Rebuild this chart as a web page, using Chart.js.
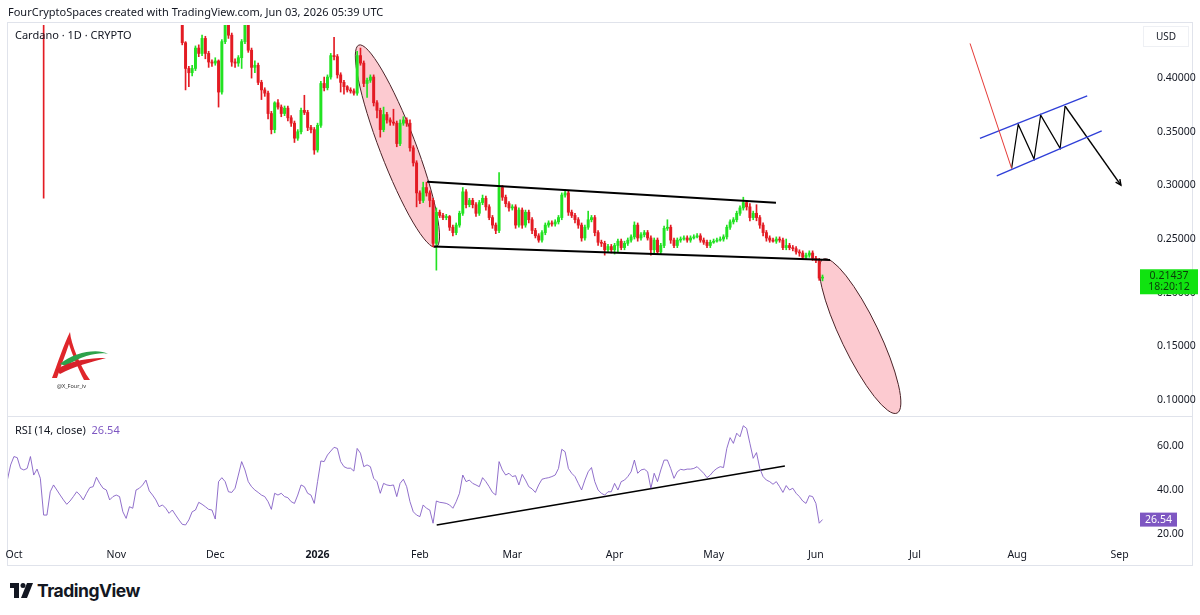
<!DOCTYPE html>
<html>
<head>
<meta charset="utf-8">
<script src="https://cdn.jsdelivr.net/npm/chart.js@4.4.1/dist/chart.umd.min.js"></script>
<style>
  body { margin: 0; width: 1200px; height: 615px; background: #fff; position: relative; overflow: hidden;
         font-family: 'Noto Sans', sans-serif; color: #131722; }
  canvas { position: absolute; left: 0; }
  #price { top: 0; }
  #rsi { top: 416px; }
  .t { position: absolute; white-space: nowrap; font-size: 11px; line-height: 14px; }
  .frame { position: absolute; border: 1px solid #e0e3eb; }
  .sep { position: absolute; background: #e0e3eb; height: 1px; }
</style>
</head>
<body>
<div class="frame" style="left:7px;top:22px;width:1184px;height:542px"></div>
<div class="sep" style="left:8px;top:416px;width:1184px"></div>
<canvas id="price" width="1200" height="416"></canvas>
<canvas id="rsi" width="1200" height="150"></canvas>

<div class="t" style="left:8px;top:5px">FourCryptoSpaces created with TradingView.com, Jun 03, 2026 05:39 UTC</div>
<div class="t" style="left:15px;top:28px">Cardano · 1D · CRYPTO</div>
<div class="t" style="left:15px;top:423px">RSI (14, close) <span style="color:#7e57c2;margin-left:3px">26.54</span></div>
<div class="t" style="left:1143px;top:26px;width:44px;height:19px;border:1px solid #eef0f4;text-align:center;line-height:19px;font-size:10px">USD</div>

<svg style="position:absolute;left:40px;top:322px" width="75" height="72">
  <path d="M12 56 C 18 40, 24 22, 30 10 C 31 22, 40 44, 50 58 L 44 58 C 38 46, 32 32, 29 22 C 25 34, 20 46, 17 56 Z" fill="#e0262b"/>
  <path d="M20 42 C 34 30, 58 26, 68 32 C 62 30, 44 32, 26 44 Z" fill="#2ca24a"/>
  <path d="M16 48 C 30 38, 50 36, 66 36 C 52 40, 34 44, 20 52 Z" fill="#d8222a"/>
  <text x="17" y="66" font-size="5.5" fill="#333" font-family="Noto Sans">@X_Four_iv</text>
</svg>

<svg style="position:absolute;left:10px;top:583px" width="24" height="15">
  <path d="M0 0 H9 V15 H4 V5 H0 Z" fill="#131722"/>
  <circle cx="13" cy="2.5" r="2.5" fill="#131722"/>
  <path d="M17 0 H23 L17 15 H11 Z" fill="#131722"/>
</svg>
<div class="t" style="left:37px;top:579px;font-size:17.5px;font-weight:700;font-family:Inter;letter-spacing:-0.5px;line-height:24px">TradingView</div>

<script>
// day 0 = Oct 1, 2025
const monthDays = [0, 31, 61, 92, 123, 151, 182, 212, 243, 273, 304, 335];
const monthLabels = ['Oct', 'Nov', 'Dec', '2026', 'Feb', 'Mar', 'Apr', 'May', 'Jun', 'Jul', 'Aug', 'Sep'];
const priceTicks = [0.10, 0.15, 0.20, 0.25, 0.30, 0.35, 0.40];
const rsiTicks = [20, 40, 60];

// Oct 10 crash candle, only its lower wick is inside the view: day, open, high, low, close
const crashCandle = [9, 0.820, 0.845, 0.288, 0.700];

const candleStartDay = 51;
const opens = [
  .460,.433,.409,.405,.409,.428,.423,.437,.423,.415,
  .414,.416,.387,.434,.454,.440,.415,.414,.419,.434,
  .456,.426,.410,.412,.396,.389,.386,.367,.352,.377,
  .373,.367,.372,.363,.358,.344,.350,.370,.368,.354,
  .352,.333,.356,.395,.391,.401,.421,.420,.403,.396,
  .392,.389,.388,.386,.421,.414,.395,.398,.401,.377,
  .370,.352,.366,.361,.359,.358,.339,.358,.361,.358,
  .335,.321,.293,.286,.298,.293,.286,.246,.275,.272,
  .270,.271,.261,.256,.263,.274,.294,.282,.286,.282,
  .274,.284,.288,.280,.270,.263,.258,.298,.289,.283,
  .279,.280,.263,.277,.263,.275,.268,.258,.253,.249,
  .256,.263,.265,.264,.266,.270,.291,.293,.275,.272,
  .268,.263,.251,.261,.268,.270,.256,.247,.246,.240,
  .243,.240,.244,.248,.242,.246,.249,.252,.263,.251,
  .254,.256,.251,.240,.249,.238,.244,.260,.261,.249,
  .244,.249,.250,.251,.249,.251,.252,.253,.249,.247,
  .244,.247,.248,.249,.250,.252,.261,.266,.268,.274,
  .279,.284,.280,.270,.274,.270,.263,.256,.251,.249,
  .248,.250,.249,.242,.244,.242,.241,.238,.237,.233,
  .235,.237,.232,.230,.2136
];
const highs = [
  .463,.434,.411,.412,.430,.431,.440,.439,.425,.417,
  .419,.417,.436,.462,.458,.442,.418,.421,.436,.465,
  .462,.428,.416,.414,.398,.391,.388,.369,.378,.380,
  .375,.374,.374,.365,.360,.352,.372,.384,.370,.356,
  .354,.358,.397,.401,.403,.423,.438,.422,.405,.398,
  .393,.391,.390,.425,.428,.416,.400,.403,.403,.379,
  .372,.373,.368,.363,.371,.360,.361,.364,.363,.361,
  .337,.323,.295,.303,.303,.295,.288,.279,.277,.274,
  .273,.272,.263,.265,.276,.298,.296,.288,.288,.284,
  .286,.291,.290,.282,.272,.265,.312,.300,.291,.285,
  .282,.282,.279,.279,.277,.277,.270,.260,.255,.258,
  .265,.267,.267,.268,.272,.293,.296,.295,.277,.274,
  .270,.265,.263,.276,.272,.272,.258,.249,.248,.245,
  .245,.246,.250,.250,.248,.251,.254,.266,.265,.256,
  .258,.258,.253,.251,.251,.246,.262,.268,.263,.251,
  .251,.252,.253,.253,.253,.254,.255,.255,.251,.249,
  .249,.250,.251,.252,.254,.263,.268,.270,.276,.281,
  .289,.286,.283,.276,.282,.272,.265,.258,.253,.251,
  .252,.252,.251,.250,.246,.244,.243,.240,.239,.237,
  .239,.239,.234,.232,.2165
];
const lows = [
  .431,.389,.392,.402,.407,.420,.421,.418,.410,.411,
  .412,.373,.385,.432,.437,.411,.410,.411,.409,.432,
  .424,.400,.405,.394,.380,.383,.362,.348,.349,.371,
  .364,.365,.360,.355,.340,.342,.348,.366,.351,.349,
  .329,.331,.354,.388,.389,.399,.417,.400,.387,.385,
  .387,.386,.384,.384,.412,.392,.382,.396,.374,.363,
  .345,.350,.358,.356,.356,.336,.337,.356,.355,.332,
  .318,.280,.283,.284,.290,.280,.243,.221,.270,.268,
  .268,.258,.253,.254,.261,.272,.279,.280,.279,.271,
  .272,.282,.277,.268,.260,.255,.256,.286,.280,.276,
  .277,.260,.261,.260,.261,.265,.255,.251,.247,.247,
  .254,.261,.262,.262,.264,.268,.289,.272,.270,.265,
  .260,.248,.249,.259,.266,.253,.244,.243,.235,.238,
  .237,.236,.238,.240,.240,.244,.247,.250,.248,.249,
  .252,.249,.235,.236,.236,.236,.242,.258,.246,.242,
  .242,.247,.249,.247,.247,.250,.251,.247,.245,.242,
  .242,.246,.247,.248,.248,.250,.259,.264,.266,.272,
  .277,.277,.267,.268,.267,.260,.253,.248,.247,.247,
  .246,.247,.240,.240,.240,.239,.236,.234,.231,.231,
  .233,.230,.228,.2115,.2110
];
const closes = [
  .433,.409,.405,.409,.428,.423,.437,.423,.415,.414,
  .416,.387,.434,.454,.440,.415,.414,.419,.434,.456,
  .426,.410,.412,.396,.389,.386,.367,.352,.377,.373,
  .367,.372,.363,.358,.344,.350,.370,.368,.354,.352,
  .333,.356,.395,.391,.401,.421,.420,.403,.396,.392,
  .389,.388,.386,.421,.414,.395,.398,.401,.377,.370,
  .352,.366,.361,.359,.358,.339,.358,.361,.358,.335,
  .321,.293,.286,.298,.293,.286,.246,.275,.272,.270,
  .271,.261,.256,.263,.274,.294,.282,.286,.282,.274,
  .284,.288,.280,.270,.263,.258,.298,.289,.283,.279,
  .280,.263,.277,.263,.275,.268,.258,.253,.249,.256,
  .263,.265,.264,.266,.270,.291,.293,.275,.272,.268,
  .263,.251,.261,.268,.270,.256,.247,.246,.240,.243,
  .240,.244,.248,.242,.246,.249,.252,.263,.251,.254,
  .256,.251,.240,.249,.238,.244,.260,.261,.249,.244,
  .249,.250,.251,.249,.251,.252,.253,.249,.247,.244,
  .247,.248,.249,.250,.252,.261,.266,.268,.274,.279,
  .284,.280,.270,.274,.270,.263,.256,.251,.249,.248,
  .250,.249,.242,.244,.242,.241,.238,.237,.233,.235,
  .237,.232,.230,.2136,.2144
];
const lastPrice = 0.21437;
const countdown = '18:20:12';

const rsiStartDay = -2;
const rsiValues = [
  44.5,51.4,55.2,54.7,49.8,49.1,49.8,55.2,46.8,49.5,
  45.3,28.6,28.6,39.2,42.3,40.0,37.7,35.5,33.5,35.0,
  37.0,39.2,37.7,35.5,38.5,41.1,41.5,45.8,43.0,40.8,
  40.0,35.5,37.0,37.7,37.0,30.1,27.1,32.4,31.7,40.0,
  40.8,42.3,44.5,39.6,37.7,35.5,32.4,33.2,31.7,29.4,
  30.9,28.6,26.4,24.4,24.1,26.4,30.1,30.9,34.4,33.5,
  32.4,31.2,30.9,26.8,43.8,45.6,43.8,39.2,38.9,40.8,
  46.8,52.9,49.1,43.8,41.5,40.0,38.9,37.7,37.0,34.7,
  31.2,38.5,37.7,38.5,37.0,36.5,34.7,33.9,37.7,42.3,
  41.5,38.5,37.7,33.9,43.8,53.2,52.9,55.9,57.7,59.4,
  58.9,52.9,50.6,49.9,49.9,48.6,58.9,56.7,50.6,51.4,
  50.6,45.3,43.8,38.5,43.0,42.3,42.0,42.3,37.0,43.0,
  44.9,41.5,34.7,30.1,28.6,
  27.9,33.2,31.7,30.9,24.9,35.0,34.4,34.2,33.9,33.2,
  31.7,34.7,38.5,46.8,43.8,44.5,43.0,42.3,41.5,45.6,
  43.8,41.5,38.9,37.7,52.9,49.1,46.8,47.6,46.1,46.5,
  42.3,47.1,44.5,41.5,40.5,38.9,42.3,44.9,45.3,45.6,
  46.1,46.8,49.8,58.5,57.4,49.8,47.6,46.1,43.0,40.0,
  44.5,48.3,50.2,43.8,40.0,38.5,37.7,39.2,39.2,43.0,
  40.0,43.8,44.5,46.1,48.3,53.6,47.6,49.1,49.5,48.3,
  40.8,47.6,43.8,49.1,53.6,53.6,49.8,45.3,48.3,49.4,
  49.1,49.5,49.5,49.8,50.6,49.1,47.6,45.6,46.8,48.6,
  49.8,50.6,50.2,58.9,63.8,61.2,65.8,64.2,69.2,68.0,
  61.2,54.4,57.0,49.8,46.1,44.5,43.8,42.6,43.8,41.5,
  38.9,42.0,40.0,40.8,38.5,37.0,35.0,33.9,37.4,37.0,
  33.9,24.9,26.54
];

// drawings, in [day, value]
const fallEllipses = [
  { from: [104.5, 0.4308], to: [127.9, 0.2425], half: 18 },
  { from: [245.2, 0.2313], to: [267.6, 0.0878], half: 19 }
];
const channelTop = [[125.2, 0.3035], [230.9, 0.2838]];
const channelBottom = [[127.3, 0.2430], [247.3, 0.2304]];
const rsiTrend = [[128.1, 24.1], [233.6, 50.9]];
const flagPole = [[289.7, 0.4323], [302.3, 0.3158]];
const flagTop = [[292.7, 0.3438], [325.2, 0.3835]];
const flagBottom = [[297.8, 0.3089], [329.6, 0.3509]];
const flagZigzag = [[302.3, 0.3158], [304.3, 0.3568], [309.1, 0.3245], [311.1, 0.3655], [317.0, 0.3345], [318.5, 0.3739]];
const flagArrow = [[318.5, 0.3739], [335.4, 0.3003]];

const upColor = '#22e222';
const downColor = '#e31b23';
const xMin = -1.8, xMax = 341.2;

Chart.defaults.font.family = "'Noto Sans', sans-serif";
Chart.defaults.font.size = 10.5;
Chart.defaults.color = '#131722';

const bodies = [], wicks = [], colors = [];
function addCandle(day, o, h, l, c) {
  bodies.push({ x: day, y: [o, c] });
  wicks.push({ x: day, y: [l, h] });
  colors.push(c >= o ? upColor : downColor);
}
addCandle(crashCandle[0], crashCandle[1], crashCandle[2], crashCandle[3], crashCandle[4]);
for (let i = 0; i < closes.length; i++) {
  addCandle(candleStartDay + i, opens[i], highs[i], lows[i], closes[i]);
}

function segment(points, color, width) {
  return {
    type: 'line',
    data: points.map(p => ({ x: p[0], y: p[1] })),
    borderColor: color,
    borderWidth: width,
    pointRadius: 0,
    fill: false,
    tension: 0
  };
}

// tick labels must not push the plot area in
function noPad(s) {
  s.paddingTop = 0;
  s.paddingBottom = 0;
  s.paddingLeft = 0;
  s.paddingRight = 0;
}

const ellipsePlugin = {
  id: 'ellipses',
  beforeDatasetsDraw(chart) {
    const { ctx, chartArea } = chart;
    const xs = chart.scales.x, ys = chart.scales.y;
    ctx.save();
    ctx.beginPath();
    ctx.rect(chartArea.left, chartArea.top, chartArea.width, chartArea.height);
    ctx.clip();
    fallEllipses.forEach(e => {
      const x1 = xs.getPixelForValue(e.from[0]), y1 = ys.getPixelForValue(e.from[1]);
      const x2 = xs.getPixelForValue(e.to[0]), y2 = ys.getPixelForValue(e.to[1]);
      const a = Math.hypot(x2 - x1, y2 - y1) / 2;
      ctx.beginPath();
      ctx.ellipse((x1 + x2) / 2, (y1 + y2) / 2, a, e.half, Math.atan2(y2 - y1, x2 - x1), 0, Math.PI * 2);
      ctx.fillStyle = 'rgba(244, 60, 80, 0.27)';
      ctx.fill();
      ctx.strokeStyle = '#4a2328';
      ctx.lineWidth = 1;
      ctx.stroke();
    });
    ctx.restore();
  }
};

const tagPlugin = {
  id: 'priceTag',
  afterDraw(chart) {
    const { ctx, chartArea } = chart;
    const xs = chart.scales.x, ys = chart.scales.y;
    // arrow head of the flag sketch
    const ax1 = xs.getPixelForValue(flagArrow[0][0]), ay1 = ys.getPixelForValue(flagArrow[0][1]);
    const ax2 = xs.getPixelForValue(flagArrow[1][0]), ay2 = ys.getPixelForValue(flagArrow[1][1]);
    const ang = Math.atan2(ay2 - ay1, ax2 - ax1);
    ctx.save();
    ctx.strokeStyle = '#000';
    ctx.lineWidth = 1.5;
    ctx.beginPath();
    ctx.moveTo(ax2 - 6 * Math.cos(ang - 0.45), ay2 - 6 * Math.sin(ang - 0.45));
    ctx.lineTo(ax2, ay2);
    ctx.lineTo(ax2 - 6 * Math.cos(ang + 0.45), ay2 - 6 * Math.sin(ang + 0.45));
    ctx.stroke();
    // last price label
    const py = ys.getPixelForValue(lastPrice);
    ctx.fillStyle = '#10e310';
    ctx.fillRect(chartArea.right, py - 8, 58, 25);
    ctx.fillStyle = '#0b3d0b';
    ctx.font = "10.5px 'Noto Sans'";
    ctx.textAlign = 'center';
    ctx.textBaseline = 'middle';
    ctx.fillText(lastPrice.toFixed(5), chartArea.right + 29, py - 1);
    ctx.fillText(countdown, chartArea.right + 29, py + 10);
    ctx.restore();
  }
};

new Chart(document.getElementById('price'), {
  type: 'bar',
  data: {
    datasets: [
      segment(channelTop, '#000', 2),
      segment(channelBottom, '#000', 2),
      segment(flagPole, '#e53935', 1),
      segment(flagTop, '#2f3fd8', 1.3),
      segment(flagBottom, '#2f3fd8', 1.3),
      segment(flagZigzag, '#000', 1.2),
      segment(flagArrow, '#000', 1.5),
      { type: 'bar', data: bodies, backgroundColor: colors, barThickness: 2.3, minBarLength: 1, grouped: false, clip: 0 },
      { type: 'bar', data: wicks, backgroundColor: colors, barThickness: 1, grouped: false, clip: 0 }
    ]
  },
  options: {
    responsive: false,
    animation: false,
    devicePixelRatio: 1,
    layout: { padding: { left: 8, top: 25, right: 0, bottom: 1 } },
    plugins: { legend: { display: false }, tooltip: { enabled: false } },
    scales: {
      x: { type: 'linear', min: xMin, max: xMax, offset: false, display: false, grid: { display: false } },
      y: {
        position: 'right',
        min: 0.086,
        max: 0.4495,
        grid: { display: false, drawTicks: false },
        border: { display: false },
        afterFit: s => { s.width = 60; noPad(s); },
        afterBuildTicks: s => { s.ticks = priceTicks.map(v => ({ value: v })); },
        ticks: { padding: 17, callback: v => v.toFixed(5) }
      }
    }
  },
  plugins: [ellipsePlugin, tagPlugin]
});

const rsiPoints = rsiValues.map((v, i) => ({ x: rsiStartDay + i, y: v }));

const rsiTagPlugin = {
  id: 'rsiTag',
  afterDraw(chart) {
    const { ctx, chartArea } = chart;
    const py = chart.scales.y.getPixelForValue(rsiValues[rsiValues.length - 1]);
    ctx.save();
    ctx.fillStyle = '#7e57c2';
    ctx.fillRect(chartArea.right, py - 7, 37, 14);
    ctx.fillStyle = '#fff';
    ctx.font = "10.5px 'Noto Sans'";
    ctx.textAlign = 'center';
    ctx.textBaseline = 'middle';
    ctx.fillText(rsiValues[rsiValues.length - 1].toFixed(2), chartArea.right + 18.5, py);
    ctx.restore();
  }
};

new Chart(document.getElementById('rsi'), {
  type: 'line',
  data: {
    datasets: [
      { data: rsiPoints, borderColor: 'rgba(126, 87, 194, 0.85)', borderWidth: 1, pointRadius: 0, tension: 0 },
      segment(rsiTrend, '#000', 1.6)
    ]
  },
  options: {
    responsive: false,
    animation: false,
    devicePixelRatio: 1,
    layout: { padding: { left: 8, top: 2, right: 0, bottom: 0 } },
    plugins: { legend: { display: false }, tooltip: { enabled: false } },
    scales: {
      x: {
        type: 'linear',
        min: xMin,
        max: xMax,
        offset: false,
        grid: { display: false, drawTicks: false },
        border: { display: false },
        afterFit: s => { s.height = 26; noPad(s); },
        afterBuildTicks: s => { s.ticks = monthDays.map(v => ({ value: v })); },
        ticks: {
          autoSkip: false,
          maxRotation: 0,
          padding: 9,
          font: ctx => ({ size: 10.5, weight: ctx.tick && ctx.tick.label === '2026' ? 'bold' : 'normal' }),
          callback: v => monthLabels[monthDays.indexOf(v)]
        }
      },
      y: {
        position: 'right',
        min: 17.27,
        max: 72.73,
        grid: { display: false, drawTicks: false },
        border: { display: false },
        afterFit: s => { s.width = 60; noPad(s); },
        afterBuildTicks: s => { s.ticks = rsiTicks.map(v => ({ value: v })); },
        ticks: { padding: 17, callback: v => v.toFixed(2) }
      }
    }
  },
  plugins: [rsiTagPlugin]
});
</script>
</body>
</html>
